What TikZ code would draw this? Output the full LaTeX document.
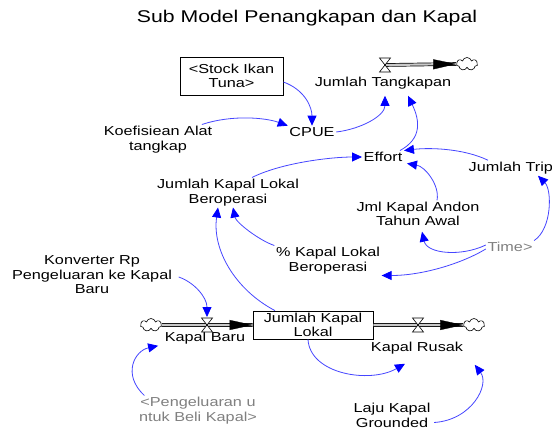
\documentclass[tikz,border=0pt]{standalone}
\usepackage{fontspec}
\setmainfont{Liberation Sans}[FakeStretch=1.25]
\usetikzlibrary{arrows.meta,shapes.symbols}

\definecolor{linkblue}{RGB}{70,70,255}
\definecolor{tipblue}{RGB}{0,0,255}
\definecolor{shadowgray}{RGB}{128,128,128}
\definecolor{pipefill}{RGB}{200,200,200}

\tikzset{
  var/.style={inner sep=1.5pt, align=center, font=\fontsize{13pt}{14.5pt}\selectfont},
  shadowvar/.style={var, text=shadowgray},
  stockbox/.style={var, draw=black, line width=0.8pt, fill=white},
  heading/.style={inner sep=0pt, font=\fontsize{17pt}{20pt}\selectfont},
  cloudy/.style={cloud, cloud puffs=7, aspect=1.6, draw=black, line width=0.6pt,
    fill=white, minimum width=21pt, minimum height=13pt, inner sep=0pt},
  pipe/.style={draw=black, line width=0.7pt, double=pipefill, double distance=2.2pt},
  flowtip/.style={draw=pipefill, line width=0.3pt,
    -{Triangle[length=23pt,width=10pt,color=black]}},
  link/.style={draw=linkblue, line width=0.8pt,
    -{Triangle[length=10pt,width=9pt,color=tipblue]}},
  valve/.pic={\draw[fill=white, line width=0.6pt]
    (-5.5pt,7pt) -- (5.5pt,7pt) -- (-5.5pt,-7pt) -- (5.5pt,-7pt) -- cycle;}
}

\begin{document}
\begin{tikzpicture}[x=1pt, y=-1pt]
  \useasboundingbox (0,0) rectangle (552,431);
  \fill[white] (0,0) rectangle (552,431);

  \node[heading] (title) at (307,18) {Sub Model Penangkapan dan Kapal};

  % variables
  \node[stockbox, minimum width=103pt, minimum height=38pt] (stock) at (231.5,76) {<Stock Ikan\\Tuna>};
  \node[var] (jt) at (383,83) {Jumlah Tangkapan};
  \node[var] (cpue) at (312,132) {CPUE};
  \node[var] (koef) at (158,139.5) {Koefisiean Alat\\tangkap};
  \node[var] (effort) at (383,157) {Effort};
  \node[var] (jklb) at (228,192.5) {Jumlah Kapal Lokal\\Beroperasi};
  \node[var, anchor=west] (trip) at (467,168) {Jumlah Trip};
  \node[var] (andon) at (418,214) {Jml Kapal Andon\\Tahun Awal};
  \node[shadowvar] (time) at (510,247) {Time>};
  \node[var] (pkl) at (328,260.5) {\% Kapal Lokal\\Beroperasi};
  \node[var] (konv) at (92,275) {Konverter Rp\\Pengeluaran ke Kapal\\Baru};
  \node[stockbox, minimum width=120pt, minimum height=28pt] (jkl) at (313,325) {Jumlah Kapal\\Lokal};
  \node[var] (kb) at (205,338) {Kapal Baru};
  \node[shadowvar] (peng) at (198,410.5) {<Pengeluaran u\\ntuk Beli Kapal>};
  \node[var] (kr) at (417,348) {Kapal Rusak};
  \node[var] (laju) at (392,415.5) {Laju Kapal\\Grounded};

  % sources and sinks
  \node[cloudy] (c1) at (151,325) {};
  \node[cloudy] (c2) at (474,325) {};
  \node[cloudy] (c3) at (467,64) {};

  % valve positions
  \coordinate (v1) at (207,325);
  \coordinate (v2) at (418,325);
  \coordinate (v3) at (385,65);

  % flows
  \draw[pipe] (c1.east) -- (jkl.west);
  \draw[flowtip] (v1) -- (jkl.west);
  \draw[pipe] (jkl.east) -- (c2.west);
  \draw[flowtip] (v2) -- (c2.west);
  \draw[pipe] (v3) -- (c3.west);
  \draw[flowtip] (v3) -- (c3.west);
  \pic at (v1) {valve};
  \pic at (v2) {valve};
  \pic at (v3) {valve};

  % causal links
  \draw[link] ([yshift=-6pt]stock.east) .. controls +(22,8) and +(0,-18) .. (cpue.north);
  \draw[link] ([xshift=-12pt]koef.north east) .. controls +(30,-10) and +(-22,-8) .. (cpue.north west);
  \draw[link] (cpue.east) .. controls +(25,-3) and +(0,20) .. ([xshift=2pt,yshift=-5pt]jt.south);
  \draw[link] ([xshift=17pt]effort.north) .. controls +(22,-12) and +(12,25) .. ([xshift=25pt,yshift=-5pt]jt.south);
  \draw[link] ([xshift=24pt]jklb.north) .. controls +(30,-15) and +(-30,0) .. (effort.west);
  \draw[link] ([xshift=21pt]trip.north west) .. controls +(-25,-12) and +(25,-3) .. (effort.north east);
  \draw[link] ([xshift=19pt]andon.north) .. controls +(3,-15) and +(18,3) .. ([xshift=3pt]effort.south east);
  \draw[link] (time.north east) .. controls +(18,-12) and +(14,14) .. ([xshift=71pt]trip.south west);
  \draw[link] ([yshift=2pt]time.west) .. controls +(-25,12) and +(5,22) .. ([xshift=4pt,yshift=-4pt]andon.south);
  \draw[link] ([yshift=-2pt]time.west) .. controls +(-25,15) and +(40,0) .. (pkl.south east);
  \draw[link] (pkl.north west) .. controls +(-15,-5) and +(3,15) .. ([xshift=5pt]jklb.south);
  \draw[link] ([xshift=-38pt]jkl.north) .. controls +(-40,-21) and +(-6,42) .. ([xshift=-10pt]jklb.south);
  \draw[link] ([xshift=5pt,yshift=-2pt]konv.east) .. controls +(15,5) and +(0,-20) .. ([yshift=8pt]v1);
  \draw[link] ([xshift=7pt]peng.north west) .. controls +(-22.5,-21) and +(-23.5,5) .. ([xshift=-5pt]kb.south west);
  \draw[link] ([xshift=-5pt]jkl.south) .. controls +(2,35) and +(-35,20) .. ([xshift=-12pt,yshift=-8pt]kr.south);
  \draw[link] ([xshift=2pt,yshift=-7pt]laju.east) .. controls +(38,-2.5) and +(15,20) .. ([xshift=10pt,yshift=-9pt]kr.south east);
\end{tikzpicture}
\end{document}
